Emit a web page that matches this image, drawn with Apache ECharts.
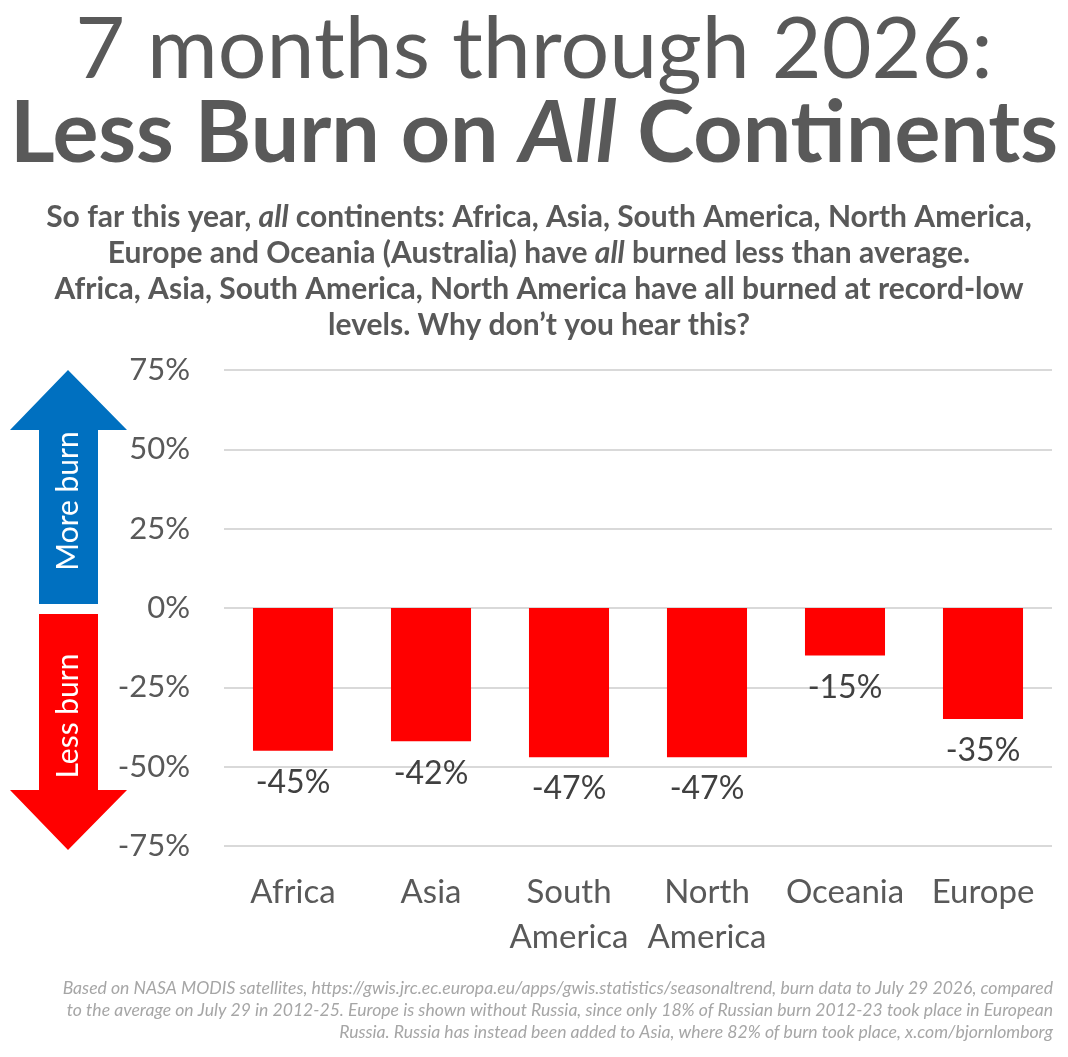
<!DOCTYPE html>
<html lang="en">
<head>
    <meta charset="UTF-8">
    <title>Less Burn on All Continents</title>
    <script src="https://cdn.jsdelivr.net/npm/echarts@6/dist/echarts.min.js"></script>
    <style>
        html, body { margin: 0; padding: 0; background: #fff; }
    </style>
</head>
<body>
    <div id="main" style="width: 1068px;height: 1057px;"></div>
<script>
    // data
    var continents = ['Africa', 'Asia', 'South\nAmerica', 'North\nAmerica', 'Oceania', 'Europe'];
    var burnChange = [-45, -42, -47, -47, -15, -35];   // % vs 2012-25 average
    var yMin = -75, yMax = 75, yStep = 25;

    var font = 'Lato';
    var grey = '#595959';

    var footnote = [
        'Based on NASA MODIS satellites, https://gwis.jrc.ec.europa.eu/apps/gwis.statistics/seasonaltrend, burn data to July 29 2026, compared',
        'to the average on July 29 in 2012-25. Europe is shown without Russia, since only 18% of Russian burn 2012-23 took place in European',
        'Russia. Russia has instead been added to Asia, where 82% of burn took place, x.com/bjornlomborg'
    ];

    var myChart = echarts.init(document.getElementById('main'));

    myChart.setOption({
        backgroundColor: '#fff',
        animation: false,
        title: [
            {
                text: '7 months through 2026:',
                left: 'center',
                top: 2,
                textStyle: { fontFamily: font, fontSize: 86, fontWeight: 'normal', color: grey }
            },
            {
                text: '{b|Less Burn on }{bi|All}{b| Continents}',
                left: 'center',
                top: 86,
                textStyle: {
                    rich: {
                        b: { fontFamily: font, fontSize: 86, fontWeight: 'bold', color: grey },
                        bi: { fontFamily: font, fontSize: 86, fontWeight: 'bold', fontStyle: 'italic', color: grey }
                    }
                }
            },
            {
                text: '{b|So far this year, }{i|all}{b| continents: Africa, Asia, South America, North America,}\n' +
                      '{b|Europe and Oceania (Australia) have }{i|all}{b| burned less than average.}\n' +
                      '{b|Africa, Asia, South America, North America have all burned at record-low}\n' +
                      '{b|levels. Why don\u2019t you hear this?}',
                left: 534,
                textAlign: 'center',
                top: 194,
                textStyle: {
                    rich: {
                        b: { fontFamily: font, fontSize: 30, fontWeight: 'bold', color: grey, lineHeight: 36 },
                        i: { fontFamily: font, fontSize: 30, fontWeight: 'bold', fontStyle: 'italic', color: grey, lineHeight: 36 }
                    }
                }
            }
        ],
        grid: {
            left: 224,
            right: 16,
            top: 370,
            bottom: 211
        },
        xAxis: {
            type: 'category',
            data: continents,
            position: 'bottom',
            axisLine: { show: false },
            axisTick: { show: false },
            axisLabel: {
                fontFamily: font,
                fontSize: 33,
                color: grey,
                lineHeight: 45,
                margin: 24,
                interval: 0
            }
        },
        yAxis: {
            type: 'value',
            min: yMin,
            max: yMax,
            interval: yStep,
            axisLine: { show: false },
            axisTick: { show: false },
            axisLabel: {
                fontFamily: font,
                fontSize: 31,
                color: grey,
                margin: 34,
                formatter: '{value}%'
            },
            splitLine: { lineStyle: { color: '#d9d9d9', width: 2 } }
        },
        series: [{
            name: 'Burn vs average',
            type: 'bar',
            data: burnChange,
            barWidth: '58%',
            itemStyle: { color: '#ff0000' },
            label: {
                show: true,
                position: 'bottom',
                distance: 16,
                fontFamily: font,
                fontSize: 32,
                color: '#404040',
                formatter: '{c}%'
            }
        }],
        graphic: [
            // up / down arrows at the left
            {
                type: 'polygon',
                shape: { points: [[68, 370], [127, 430], [98, 430], [98, 604], [39, 604], [39, 430], [10, 430]] },
                style: { fill: '#0070c0' }
            },
            {
                type: 'polygon',
                shape: { points: [[39, 614], [98, 614], [98, 790], [127, 790], [68, 850], [10, 790], [39, 790]] },
                style: { fill: '#ff0000' }
            },
            {
                type: 'text',
                x: 68, y: 501,
                rotation: Math.PI / 2,
                style: {
                    text: 'More burn', fill: '#fff', font: '30px Lato',
                    align: 'center', verticalAlign: 'middle'
                }
            },
            {
                type: 'text',
                x: 68, y: 716,
                rotation: Math.PI / 2,
                style: {
                    text: 'Less burn', fill: '#fff', font: '30px Lato',
                    align: 'center', verticalAlign: 'middle'
                }
            },
            // source note
            {
                type: 'text',
                x: 1053, y: 977,
                style: {
                    text: footnote.join('\n'),
                    fill: '#a6a6a6',
                    font: 'italic 17.6px Lato',
                    lineHeight: 22,
                    align: 'right',
                    verticalAlign: 'top'
                }
            }
        ]
    });
</script>
</body>
</html>
